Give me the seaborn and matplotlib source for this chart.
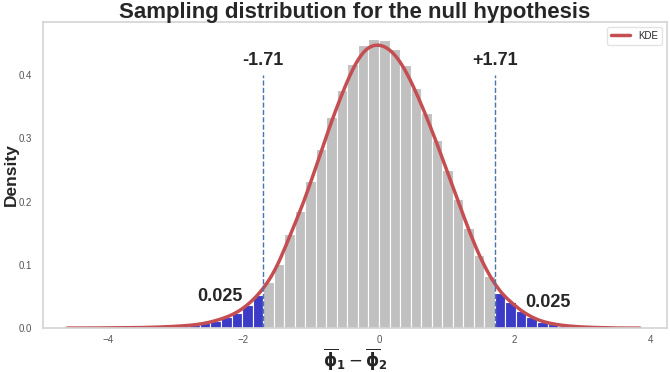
import numpy as np
import pandas as pd
import matplotlib
matplotlib.use('Agg')
import matplotlib.pyplot as plt
import seaborn as sns

# bins of the histogram (edges sit on the critical values)
bin_width = 1.71 / 11
bin_centers = (np.arange(-27, 22) + 0.5) * bin_width

# bar heights (density), left to right
bar_heights = [
    0.0002, 0.0003, 0.0004, 0.0006, 0.0008, 0.0012, 0.0018, 0.0026, 0.0036, 0.0050,
    0.0074, 0.0116, 0.0170, 0.0240, 0.0360, 0.0520,
    0.0730, 0.1020, 0.1480, 0.1850, 0.2320, 0.2830, 0.3330, 0.3770, 0.4180, 0.4480,
    0.4570, 0.4550, 0.4420, 0.4160, 0.3800, 0.3400, 0.2970, 0.2500, 0.2040, 0.1580,
    0.1150, 0.0830,
    0.0560, 0.0420, 0.0270, 0.0170, 0.0100, 0.0065, 0.0040, 0.0025, 0.0015, 0.0009,
    0.0005,
]

crit = 1.71
tail_area = 0.025

gray = '#c0c0c0'
blue = '#3b3bc8'
red = '#c44e52'

df = pd.DataFrame({'diff': bin_centers, 'density': bar_heights})
edges = list(np.append(bin_centers - bin_width / 2, bin_centers[-1] + bin_width / 2))

sns.set_theme(style='white')
plt.rcParams['font.family'] = ['Liberation Sans', 'DejaVu Sans']
plt.rcParams['mathtext.fontset'] = 'dejavusans'

fig = plt.figure(figsize=(6.7, 3.72), dpi=100)
ax = fig.add_axes([0.064, 0.118, 0.9315, 0.823])

sns.histplot(data=df, x='diff', weights='density', bins=edges,
             stat='count', color=gray, edgecolor='white', linewidth=0.8,
             alpha=1, ax=ax)

# colour the rejection region
for patch in ax.patches:
    mid = patch.get_x() + patch.get_width() / 2
    if abs(mid) > crit:
        patch.set_facecolor(blue)

sns.kdeplot(data=df, x='diff', weights='density', bw_adjust=0.25, cut=4,
            clip=(-4.6, 3.85), color=red, linewidth=2.5, label='KDE', ax=ax)

for x_c, lbl in [(-crit, '-1.71'), (crit, '+1.71')]:
    ax.vlines(x_c, 0, 0.4, colors='#4c72b0', linestyles='--', linewidth=1)
    ax.text(x_c, 0.41, lbl, ha='center', va='bottom', fontsize=13, fontweight='bold')

ax.text(-2.35, 0.05, f'{tail_area}', ha='center', va='center', fontsize=13, fontweight='bold')
ax.text(2.50, 0.04, f'{tail_area}', ha='center', va='center', fontsize=13, fontweight='bold')

ax.set_xlim(-4.96, 4.25)
ax.set_ylim(0, 0.484)
ax.set_xticks([-4, -2, 0, 2, 4])
ax.set_yticks([0.0, 0.1, 0.2, 0.3, 0.4])
ax.set_yticklabels(['0.0', '0.1', '0.2', '0.3', '0.4'])
ax.tick_params(labelsize=7, colors='#555555', length=0)
ax.tick_params(axis='y', pad=8)
ax.tick_params(axis='x', pad=5)

for s in ax.spines.values():
    s.set_color('#d5d5d5')

ax.set_title('Sampling distribution for the null hypothesis',
             fontsize=16, fontweight='bold', pad=3)
ax.set_ylabel('Density', fontsize=12.5, fontweight='bold', labelpad=0)
ax.set_xlabel(r'$\overline{\mathbf{\phi}}_{\mathbf{1}} - \overline{\mathbf{\phi}}_{\mathbf{2}}$',
              fontsize=12, labelpad=1)

leg = ax.legend(loc='upper right', fontsize=7, frameon=True)
leg.get_frame().set_edgecolor('#dddddd')

fig.savefig('out.png', dpi=100)
